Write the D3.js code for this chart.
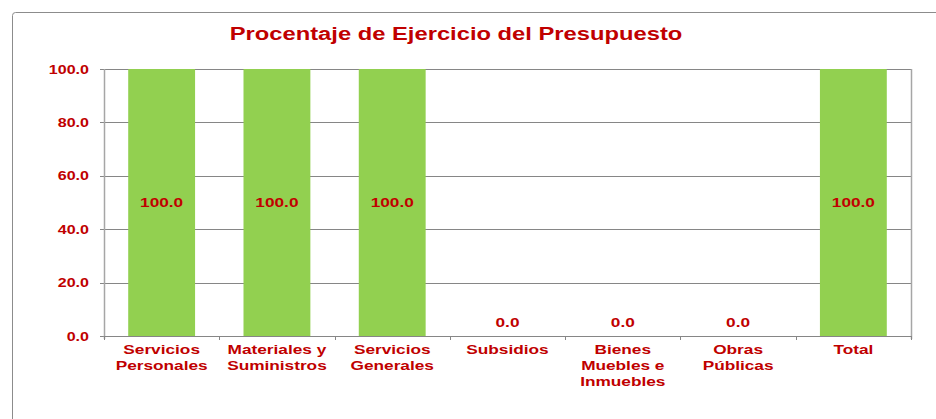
<!DOCTYPE html>
<html>
<head>
<meta charset="utf-8">
<script src="https://cdn.jsdelivr.net/npm/d3@7"></script>
<style>
  html, body { margin: 0; padding: 0; background: #fff; }
  svg text { font-family: "Liberation Sans", Arial, sans-serif; font-weight: bold; fill: #c00000; }
</style>
</head>
<body>
<div id="chart"></div>
<script>
(function () {
  "use strict";

  const categories = [
    ["Servicios", "Personales"],
    ["Materiales y", "Suministros"],
    ["Servicios", "Generales"],
    ["Subsidios"],
    ["Bienes", "Muebles e", "Inmuebles"],
    ["Obras", "Públicas"],
    ["Total"],
  ];
  const values = [100.0, 100.0, 100.0, 0.0, 0.0, 0.0, 100.0];
  const yTicks = [0, 20, 40, 60, 80, 100];
  const title = "Procentaje de Ejercicio del Presupuesto";

  const width = 936, height = 419;
  const margin = { left: 104, right: 25, top: 69, bottom: 83 };
  const innerW = width - margin.left - margin.right;
  const innerH = height - margin.top - margin.bottom;
  const stretch = 1.34; // the reference text is drawn wide

  const svg = d3.select("#chart").append("svg")
    .attr("width", width).attr("height", height);

  // place text at (x, y) but horizontally widened
  const wide = (sel, x, y, sx) =>
    sel.attr("transform", `translate(${x},${y}) scale(${sx || stretch},1)`);

  // outer chart frame
  svg.append("rect")
    .attr("x", 12.5).attr("y", 12.5)
    .attr("width", 960).attr("height", 440)
    .attr("rx", 3)
    .attr("fill", "none").attr("stroke", "#8c8c8c").attr("stroke-width", 1);

  svg.append("text")
    .call(wide, 456, 40, 1.32)
    .attr("text-anchor", "middle")
    .style("font-size", "18px")
    .text(title);

  const x = d3.scaleBand().domain(d3.range(categories.length)).range([0, innerW]);
  const y = d3.scaleLinear().domain([0, 100]).range([innerH, 0]);

  const g = svg.append("g").attr("transform", `translate(${margin.left},${margin.top})`);

  // gridlines
  g.append("g").selectAll("line.grid")
    .data(yTicks)
    .join("line")
    .attr("x1", -4).attr("x2", innerW)
    .attr("y1", (d) => Math.round(y(d)) + 0.5).attr("y2", (d) => Math.round(y(d)) + 0.5)
    .attr("stroke", "#868686");

  // y tick labels
  g.append("g").selectAll("text")
    .data(yTicks)
    .join("text")
    .each(function (d) { wide(d3.select(this), -15, y(d) + 4.5); })
    .attr("text-anchor", "end")
    .style("font-size", "12px")
    .text((d) => d3.format(".1f")(d));

  // vertical borders of plot area
  g.append("line").attr("x1", 0.5).attr("x2", 0.5).attr("y1", 0).attr("y2", innerH + 3)
    .attr("stroke", "#a6a6a6").attr("stroke-width", 1.5);
  g.append("line").attr("x1", innerW + 0.5).attr("x2", innerW + 0.5).attr("y1", 0).attr("y2", innerH + 3)
    .attr("stroke", "#a6a6a6").attr("stroke-width", 1.5);

  // bars
  const barW = x.bandwidth() * 0.58;
  g.append("g").selectAll("rect")
    .data(values)
    .join("rect")
    .attr("x", (d, i) => x(i) + (x.bandwidth() - barW) / 2)
    .attr("y", (d) => y(d))
    .attr("width", barW)
    .attr("height", (d) => innerH - y(d))
    .attr("fill", "#92d050");

  // x axis: ticks at category boundaries
  g.append("g").selectAll("line.xt")
    .data(d3.range(categories.length + 1))
    .join("line")
    .attr("x1", (i) => Math.round(i * x.step()) + 0.5)
    .attr("x2", (i) => Math.round(i * x.step()) + 0.5)
    .attr("y1", innerH).attr("y2", innerH + 4)
    .attr("stroke", "#868686");
  g.append("line").attr("x1", 0).attr("x2", innerW)
    .attr("y1", Math.round(innerH) + 0.5).attr("y2", Math.round(innerH) + 0.5)
    .attr("stroke", "#868686");

  // data labels
  g.append("g").selectAll("text")
    .data(values)
    .join("text")
    .each(function (d, i) {
      wide(d3.select(this), x(i) + x.bandwidth() / 2, d > 0 ? y(d / 2) + 4.5 : y(0) - 9, 1.38);
    })
    .attr("text-anchor", "middle")
    .style("font-size", "12.5px")
    .text((d) => d3.format(".1f")(d));

  // category labels
  g.append("g").selectAll("text")
    .data(categories)
    .join("text")
    .each(function (d, i) { wide(d3.select(this), x(i) + x.bandwidth() / 2, innerH + 18, 1.38); })
    .attr("text-anchor", "middle")
    .style("font-size", "12.5px")
    .each(function (d) {
      const t = d3.select(this);
      d.forEach((line, k) => {
        t.append("tspan").attr("x", 0).attr("dy", k === 0 ? 0 : 16).text(line);
      });
    });
})();
</script>
</body>
</html>
